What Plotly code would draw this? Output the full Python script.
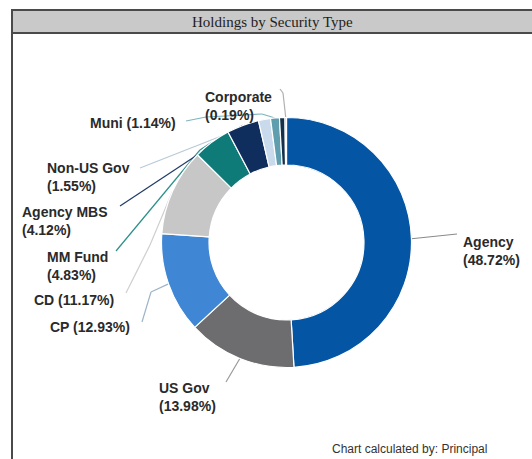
import math
import plotly.graph_objects as go

W, H = 532, 459

# ---- data ----
categories = ["Agency", "US Gov", "CP", "CD", "MM Fund", "Agency MBS",
              "Non-US Gov", "Muni", "Other", "Corporate"]
values = [48.72, 13.98, 12.93, 11.17, 4.83, 4.12, 1.55, 1.14, 0.70, 0.19]
label_texts = ["Agency<br>(48.72%)", "US Gov<br>(13.98%)", "CP (12.93%)",
               "CD (11.17%)", "MM Fund<br>(4.83%)", "Agency MBS<br>(4.12%)",
               "Non-US Gov<br>(1.55%)", "Muni (1.14%)", "", "Corporate<br>(0.19%)"]
colors = ["#0455A4", "#6D6D6F", "#3F86D4", "#C7C7C7", "#0E7B79", "#0F2E5E",
          "#C8DAEC", "#5E9EAE", "#14304A", "#35C3D3"]
line_colors = ["#8A8A8A", "#9A9A9A", "#9FB4C8", "#CFCFCF", "#2B8F8C", "#1E3A66",
               "#B9C9D8", "#7FB5BE", None, "#B0B0B0"]

# ---- layout helpers ----
cx, cy, R = 286.5, 242.5, 125.0


def px(x):
    return x / W


def py(y):
    return 1 - y / H


# label positions (px) : (x, y, xanchor) and leader waypoints
label_pos = {
    "Agency": (461, 251, "left", [(457, 234)]),
    "US Gov": (157, 397, "left", [(226, 382)]),
    "CP": (48, 327, "left", [(142, 322), (151, 292)]),
    "CD": (32, 300, "left", [(126, 293), (150, 245)]),
    "MM Fund": (45, 266, "left", [(116, 251), (200, 150)]),
    "Agency MBS": (20, 221, "left", [(120, 206), (232, 132)]),
    "Non-US Gov": (45, 177, "left", [(140, 168), (252, 124)]),
    "Muni": (88, 123, "left", [(186, 121), (206, 117), (262, 114)]),
    "Corporate": (203, 106, "left", [(280, 89), (283, 93)]),
}

total = sum(values)
shapes = []
annotations = []

# frame and title bar
shapes.append(dict(type="rect", xref="paper", yref="paper", x0=px(12), x1=px(545),
                   y0=py(470), y1=py(10), line=dict(color="#4A4A4A", width=2),
                   fillcolor="white", layer="below"))
shapes.append(dict(type="rect", xref="paper", yref="paper", x0=px(12), x1=px(545),
                   y0=py(33), y1=py(10), line=dict(color="#4A4A4A", width=2),
                   fillcolor="#C9C9C9", layer="below"))

cum = 0.0
for i, (cat, v) in enumerate(zip(categories, values)):
    mid = (cum + v / 2) / total
    cum += v
    if cat not in label_pos:
        continue
    theta = 2 * math.pi * mid
    sx = cx + R * math.sin(theta)
    sy = cy - R * math.cos(theta)
    lx, ly, xa, pts = label_pos[cat]
    path_pts = pts + [(sx, sy)]
    for (x0, y0), (x1, y1) in zip(path_pts[:-1], path_pts[1:]):
        shapes.append(dict(type="line", xref="paper", yref="paper",
                           x0=px(x0), y0=py(y0), x1=px(x1), y1=py(y1),
                           line=dict(color=line_colors[i], width=1.2),
                           layer="below"))
    annotations.append(dict(text="<b>" + label_texts[i] + "</b>", x=px(lx), y=py(ly),
                            xref="paper", yref="paper", xanchor=xa, yanchor="middle",
                            align="left", showarrow=False,
                            font=dict(family="Arial, Liberation Sans", size=14,
                                      color="#2A2A2A")))

annotations.append(dict(text="Holdings by Security Type", x=px(272), y=py(21.5),
                        xref="paper", yref="paper", showarrow=False,
                        xanchor="center", yanchor="middle",
                        font=dict(family="Liberation Serif, Times New Roman", size=15,
                                  color="#1E1E1E")))
annotations.append(dict(text="Chart calculated by: Principal", x=px(330), y=py(449),
                        xref="paper", yref="paper", showarrow=False,
                        xanchor="left", yanchor="middle",
                        font=dict(family="Arial, Liberation Sans", size=12,
                                  color="#333333")))

fig = go.Figure(go.Pie(
    labels=categories, values=values, sort=False, direction="clockwise",
    rotation=0, hole=0.62, textinfo="none", hoverinfo="label+percent",
    marker=dict(colors=colors, line=dict(color="white", width=1.2)),
    domain=dict(x=[px(cx - R), px(cx + R)], y=[py(cy + R), py(cy - R)]),
    showlegend=False,
))

fig.update_layout(width=W, height=H, margin=dict(l=0, r=0, t=0, b=0),
                  paper_bgcolor="white", plot_bgcolor="white",
                  shapes=shapes, annotations=annotations)

fig.write_html("out.html", config={"displayModeBar": False},
               post_script="document.body.style.margin='0';"
                           "document.body.style.overflow='hidden';")
